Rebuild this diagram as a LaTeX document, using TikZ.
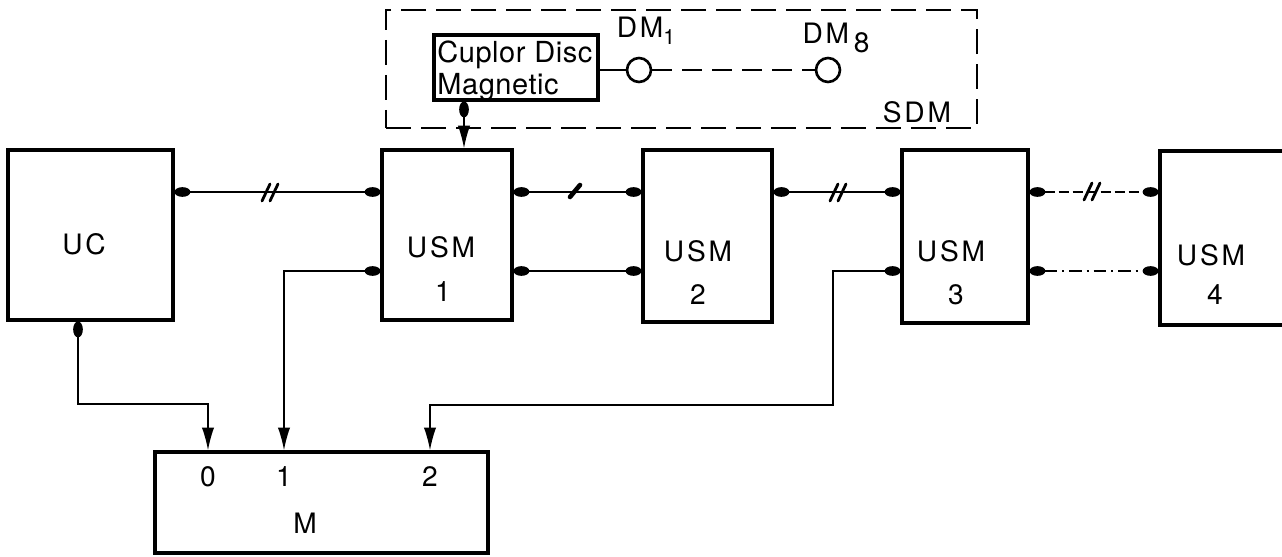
\documentclass[tikz,border=0pt]{standalone}
\usepackage{fontspec}
\newfontfamily\labfont[LetterSpace=10]{TeX Gyre Heros}
\newfontfamily\cupfont[LetterSpace=2]{TeX Gyre Heros}
\usetikzlibrary{arrows.meta}
\tikzset{
  box/.style={draw, line width=1.8pt, rectangle, inner sep=0pt},
  conn/.style={line width=0.9pt},
  lab/.style={font=\labfont\fontsize{16}{19}\selectfont, inner sep=0pt},
  dmc/.style={draw, circle, line width=1.5pt, minimum size=0.48cm, inner sep=0pt},
  blob/.tip={Ellipse[length=9pt,width=5.5pt]},
  arr/.tip={Latex[length=13pt,width=7pt]},
  dbus/.style={dash pattern=on 0.2cm off 0.08cm},
  dotbus/.style={dash pattern=on 0.25cm off 0.1cm on 0.04cm off 0.1cm},
  dslash/.pic={\draw[line width=1.6pt, line cap=round] (-9,9) -- (-1,-8) (-1,9) -- (7,-8);},
  sslash/.pic={\draw[line width=2.6pt, line cap=round] (-5,6) -- (5,-6);}
}
\begin{document}
\begin{tikzpicture}[x=0.02cm,y=-0.02cm]
\useasboundingbox (0,0) rectangle (1282,557);

% SDM group
\node[draw, line width=0.9pt, dash pattern=on 0.5cm off 0.2cm, minimum width=11.82cm, minimum height=2.36cm, inner sep=0pt] (sdm) at (681.5,69) {};
\node[lab] (sdmt) at (917,112) {SDM};
\node[box, minimum width=3.28cm, minimum height=1.30cm] (cup) at (516,67.5) {};
\node[font=\cupfont\fontsize{16.5}{18.5}\selectfont, inner sep=0pt, anchor=north west, align=left] (cupt) at (437,40) {Cuplor Disc\\Magnetic};
\node[dmc] (dm1) at (639,70) {};
\node[dmc] (dm8) at (828,70) {};
\node[lab] (dm1t) at (646,31) {DM\raisebox{-4pt}{\fontsize{12}{13}\selectfont 1}};
\node[lab] (dm8t) at (836,38) {DM\,\raisebox{-5pt}{8}};
\draw[conn] (cup.east |- dm1) -- (dm1.west);
\draw[conn, dash pattern=on 0.4cm off 0.2cm] (dm1.east) -- (dm8.west);

% main boxes
\node[box, minimum width=3.30cm, minimum height=3.40cm] (uc) at (90.5,235) {};
\node[lab] (uct) at (84,244) {UC};
\node[box, minimum width=2.60cm, minimum height=3.40cm] (usm1) at (447,235) {};
\node[lab] (usm1a) at (441,247) {USM};
\node[lab] (usm1b) at (443,292) {1};
\node[box, minimum width=2.58cm, minimum height=3.44cm] (usm2) at (707.5,236) {};
\node[lab] (usm2a) at (698,251) {USM};
\node[lab] (usm2b) at (698,295) {2};
\node[box, minimum width=2.52cm, minimum height=3.46cm] (usm3) at (965,236.5) {};
\node[lab] (usm3a) at (951,251) {USM};
\node[lab] (usm3b) at (956,295) {3};
\node[box, minimum width=3.0cm, minimum height=3.48cm] (usm4) at (1235,238) {};
\node[lab] (usm4a) at (1211,255) {USM};
\node[lab] (usm4b) at (1215,295) {4};
\node[box, minimum width=6.66cm, minimum height=2.02cm] (m) at (321.5,502.5) {};
\node[lab] (m0) at (208,477) {0};
\node[lab] (m1) at (284,477) {1};
\node[lab] (m2) at (430,477) {2};
\node[lab] (mt) at (305,523) {M};

% helper coordinates
\coordinate (r1) at (0,192);
\coordinate (r2) at (0,271);
\coordinate (x0) at (208,0);
\coordinate (x1) at (284,0);
\coordinate (x2) at (430,0);
\coordinate (k0) at (78,404);
\coordinate (k3) at (833,405);
\coordinate (xc) at (464,0);

% connectors
\draw[conn, blob-blob] (uc.east |- r1) -- (usm1.west |- r1);
\pic at (271,192) {dslash};
\draw[conn, blob-blob] (usm1.east |- r1) -- (usm2.west |- r1);
\pic at (575,191) {sslash};
\draw[conn, blob-blob] (usm1.east |- r2) -- (usm2.west |- r2);
\draw[conn, blob-blob] (usm2.east |- r1) -- (usm3.west |- r1);
\pic at (839,192) {dslash};
\draw[conn, dbus, blob-blob] (usm3.east |- r1) -- (usm4.west |- r1);
\pic at (1093,191) {dslash};
\draw[conn, dotbus, blob-blob] (usm3.east |- r2) -- (usm4.west |- r2);
\draw[conn, blob-arr] (cup.south -| xc) -- (usm1.north -| xc);
\draw[conn, blob-arr] (usm1.west |- r2) -| (m.north -| x1);
\draw[conn, blob-arr] (usm3.west |- r2) -| (k3) -| (m.north -| x2);
\draw[conn, blob-arr] (uc.south -| k0) -- (k0) -| (m.north -| x0);
\end{tikzpicture}
\end{document}
